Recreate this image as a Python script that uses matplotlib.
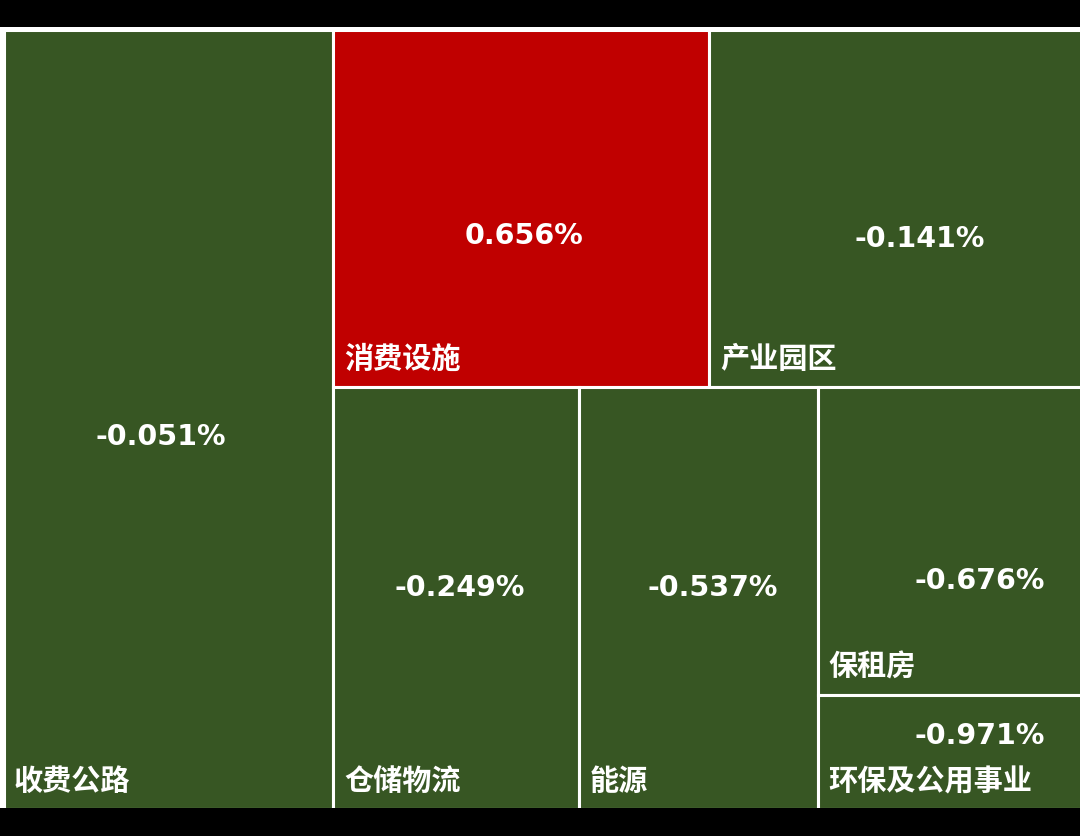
import matplotlib
matplotlib.use("Agg")
import matplotlib.pyplot as plt
from matplotlib.patches import Rectangle

plt.rcParams['font.family'] = ['Noto Sans CJK SC', 'DejaVu Sans']

# ---- data ----
categories = ['收费公路', '消费设施', '产业园区', '仓储物流', '能源', '保租房', '环保及公用事业']
changes = [-0.051, 0.656, -0.141, -0.249, -0.537, -0.676, -0.971]   # percent
sizes = [30.6, 16.0, 15.9, 12.3, 12.0, 9.7, 3.6]                   # relative tile area

# slice-and-dice structure (alternating horizontal / vertical splits)
layout_tree = [0, [[1, 2], [3, 4, [5, 6]]]]

# value label anchor inside each tile (fraction of tile width / height)
value_anchor = [(0.477, 0.520), (0.506, 0.569), (0.564, 0.578),
                (0.515, 0.469), (0.562, 0.469), (0.611, 0.622), (0.611, 0.339)]

POS_COLOR = '#C00000'
NEG_COLOR = '#375623'


def node_size(node):
    if isinstance(node, list):
        return sum(node_size(n) for n in node)
    return sizes[node]


def layout(node, x0, y0, w, h, horizontal, out):
    if not isinstance(node, list):
        out[node] = (x0, y0, w, h)
        return
    total = node_size(node)
    pos = 0.0
    for child in node:
        frac = node_size(child) / total
        if horizontal:
            layout(child, x0 + pos * w, y0, w * frac, h, not horizontal, out)
        else:
            layout(child, x0, y0 + pos * h, w, h * frac, not horizontal, out)
        pos += frac


fig = plt.figure(figsize=(10.8, 8.36), dpi=100)
fig.patch.set_facecolor('black')
ax = fig.add_axes([0, 0, 1, 1])
ax.set_xlim(0, 1080)
ax.set_ylim(836, 0)
ax.axis('off')

# white chart area
ax.add_patch(Rectangle((0, 27), 1080, 781, facecolor='white', edgecolor='none', zorder=0))

rects = {}
layout(layout_tree, 3.5, 29.5, 1079.5, 779.5, True, rects)

for i, name in enumerate(categories):
    x, y, w, h = rects[i]
    color = POS_COLOR if changes[i] > 0 else NEG_COLOR
    ax.add_patch(Rectangle((x, y), w, h, facecolor=color, edgecolor='white',
                           linewidth=2.2, zorder=1))
    fx, fy = value_anchor[i]
    ax.text(x + fx * w, y + fy * h + 10.5, f"{changes[i]:.3f}%",
            ha='center', va='baseline', color='white', fontsize=20.5,
            fontweight='bold', family='DejaVu Sans', zorder=3)
    ax.text(x + 10.5, y + h - 28, name, ha='left', va='center', color='white',
            fontsize=21, fontweight='bold', zorder=3)

# bottom black band (cropped frame)
ax.add_patch(Rectangle((0, 808), 1080, 28, facecolor='black', edgecolor='none', zorder=5))

fig.savefig('out.png', dpi=100, facecolor='black')
